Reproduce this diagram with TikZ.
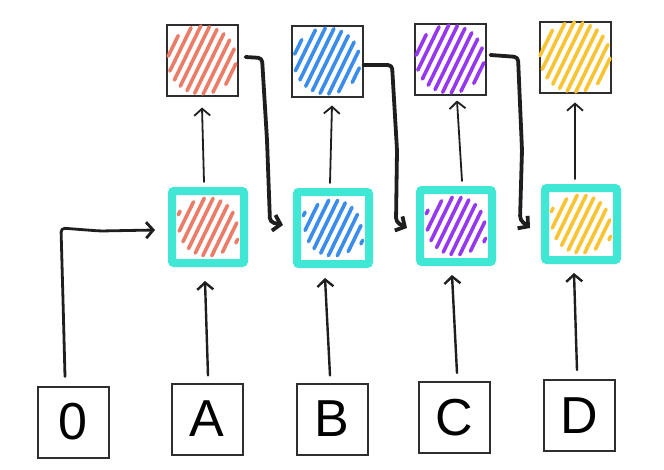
\documentclass[tikz,border=0pt]{standalone}
\usepackage{fontspec}
\setmainfont{Liberation Sans}
\usetikzlibrary{arrows.meta,calc}
\definecolor{hred}{HTML}{EB7D68}
\definecolor{hblue}{HTML}{3A8DEA}
\definecolor{hpurple}{HTML}{9638F0}
\definecolor{hyellow}{HTML}{F9C433}
\definecolor{cyanb}{HTML}{3FE7D4}
\definecolor{boxgray}{HTML}{2E2E2E}
\definecolor{inkc}{HTML}{1E1E1E}
\newcommand{\hatchin}[3]{%
  \foreach \d in {-32,-24,...,32.1}{%
    \pgfmathsetmacro\L{sqrt(max(#3*#3-\d*\d,4))}%
    \draw[#2, hatchstroke]
      ($(#1.center)+(0.9*\d+0.44*\L, 0.44*\d-0.9*\L)$) --
      ($(#1.center)+(0.9*\d-0.44*\L, 0.44*\d+0.9*\L)$);
  }}
\begin{document}
\begin{tikzpicture}[x=1pt,y=-1pt,
  plainbox/.style={draw=boxgray, line width=2pt, minimum size=71pt, inner sep=0pt,
    font=\fontsize{52}{52}\selectfont},
  cellbox/.style={draw=cyanb, line width=8pt, rounded corners=2pt, minimum size=72pt, inner sep=0pt},
  hatchstroke/.style={line width=3.6pt, line cap=round},
  tipa/.style={-{Straight Barb[length=7pt,width=16pt]}},
  thinarr/.style={tipa, draw=inkc, line width=1.8pt, line cap=round},
  inarr/.style={tipa, draw=inkc, line width=2.4pt, line cap=round},
  hookarr/.style={tipa, draw=inkc, line width=3.8pt, line cap=round, line join=round, rounded corners=4pt},
  zeroarr/.style={tipa, draw=inkc, line width=2.8pt, line cap=round, line join=round, rounded corners=4pt},
]
\useasboundingbox[fill=white] (0,0) rectangle (664,469);

% top boxes
\node[plainbox] (rt) at (202,60) {};
\node[plainbox] (bt) at (327,61) {};
\node[plainbox] (pt) at (450,59) {};
\node[plainbox] (yt) at (575,57) {};
% middle cells
\node[cellbox] (rm) at (208,227) {};
\node[cellbox] (bm) at (333,228) {};
\node[cellbox] (pm) at (456,226) {};
\node[cellbox] (ym) at (581,224) {};
% bottom inputs
\node[plainbox] (n0) at (73,422) {0};
\node[plainbox] (nA) at (207,419) {A};
\node[plainbox] (nB) at (332,419) {B};
\node[plainbox] (nC) at (454.5,417.5) {C};
\node[plainbox] (nD) at (579.5,415.5) {D};

% hatching
\hatchin{rt}{hred}{34}
\hatchin{bt}{hblue}{33}
\hatchin{pt}{hpurple}{34}
\hatchin{yt}{hyellow}{35}
\hatchin{rm}{hred}{29}
\hatchin{bm}{hblue}{28}
\hatchin{pm}{hpurple}{29}
\hatchin{ym}{hyellow}{29}

% input arrows
\draw[zeroarr] ([xshift=-8pt,yshift=9pt]n0.north) -- (63,300) -- (61,228) -- (100,231)
  -- ([xshift=-13pt,yshift=-3pt]rm.west);
\draw[inarr] ([xshift=1pt,yshift=7pt]nA.north) -- ([xshift=-3pt,yshift=-14pt]rm.south);
\draw[inarr] ([xshift=-2pt,yshift=7pt]nB.north) -- ([xshift=-8pt,yshift=-10pt]bm.south);
\draw[inarr] ([xshift=2.5pt,yshift=8pt]nC.north) -- ([xshift=-4pt,yshift=-9pt]pm.south);
\draw[inarr] ([xshift=-2.5pt,yshift=9pt]nD.north) -- ([xshift=-7pt,yshift=-9pt]ym.south);

% cell to output arrows
\draw[thinarr] ([xshift=-4pt,yshift=5pt]rm.north) -- ([xshift=0pt,yshift=-11pt]rt.south);
\draw[thinarr] ([xshift=-3pt,yshift=5pt]bm.north) -- ([xshift=5pt,yshift=-8pt]bt.south);
\draw[thinarr] ([xshift=6pt,yshift=5pt]pm.north) -- ([xshift=7pt,yshift=-5pt]pt.south);
\draw[thinarr] ([xshift=-6pt,yshift=5pt]ym.north) -- ([xshift=0pt,yshift=-9pt]yt.south);

% recurrent hooks
\draw[hookarr] ([xshift=7pt,yshift=3pt]rt.east) -- (262,58) -- (267,140) -- (270,222)
  -- ([xshift=-10pt,yshift=3pt]bm.west);
\draw[hookarr] ([xshift=0pt,yshift=-4pt]bt.east) -- (392,65) -- (397,150) -- (396,222)
  -- ([xshift=-9pt,yshift=-2pt]pm.west);
\draw[hookarr] ([xshift=4pt,yshift=4pt]pt.east) -- (518,57) -- (522,150) -- (520,220)
  -- ([xshift=-11pt,yshift=-4pt]ym.west);
\end{tikzpicture}
\end{document}
